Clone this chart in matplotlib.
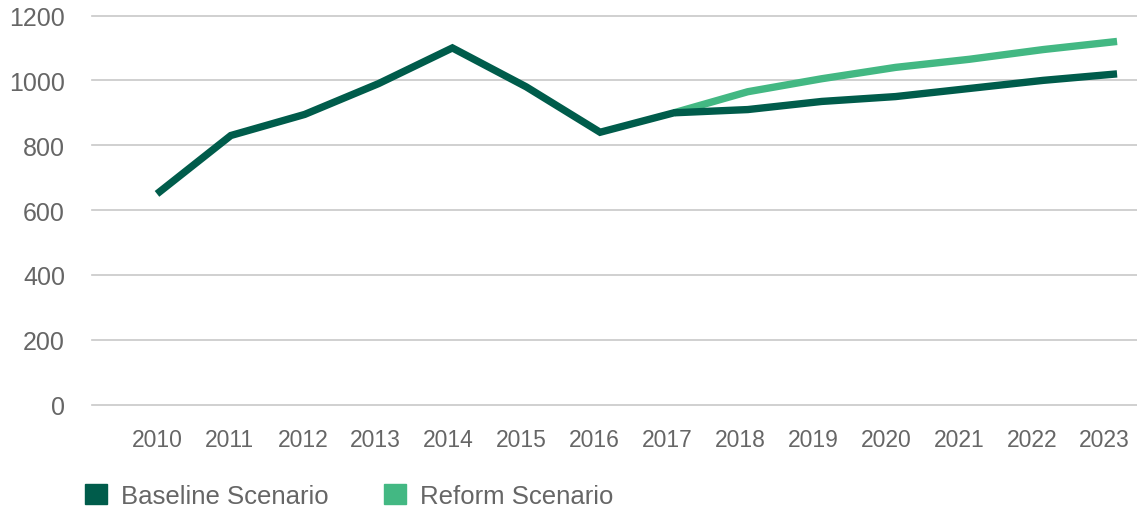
import matplotlib
matplotlib.use("Agg")
import matplotlib.pyplot as plt
import matplotlib.transforms as mtransforms
from matplotlib.patches import Patch

years = ["2010", "2011", "2012", "2013", "2014", "2015", "2016",
         "2017", "2018", "2019", "2020", "2021", "2022", "2023"]
baseline = [650, 830, 895, 990, 1100, 980, 840, 900, 910, 935, 950, 975, 1000, 1020]
# reform scenario starts at 2017
reform_years = years[7:]
reform = [900, 965, 1005, 1040, 1065, 1095, 1120]

dark = "#005C4B"
light = "#43B883"
grey_text = "#666666"

plt.rcParams['font.family'] = ['Liberation Sans', 'DejaVu Sans']

fig = plt.figure(figsize=(11.37, 5.10), dpi=100)
ax = fig.add_axes([92 / 1137, 1 - 405.7 / 510, 1 - 92 / 1137, 389.2 / 510])

x = list(range(len(years)))
xr = [years.index(y) for y in reform_years]

ax.plot(xr, reform, color=light, lw=5.3, solid_capstyle='butt', zorder=3, clip_on=False)
ax.plot(x, baseline, color=dark, lw=5.3, solid_capstyle='butt', solid_joinstyle='miter', zorder=4, clip_on=False)

ax.set_ylim(0, 1200)
ax.set_xlim(-0.88, 13.27)
ax.set_yticks(range(0, 1201, 200))
ax.set_xticks(x)
ax.set_xticklabels(years)
ax.yaxis.grid(True, color="#C8C8C8", lw=1.2, clip_on=False)
ax.set_axisbelow(True)
for s in ax.spines.values():
    s.set_visible(False)
ax.tick_params(axis='both', length=0, colors=grey_text)
ax.tick_params(axis='y', labelsize=18, pad=19.5)
ax.tick_params(axis='x', labelsize=16.5, pad=17)

# year labels sit a little tighter than the points in the original
for i, lab in enumerate(ax.get_xticklabels()):
    off = mtransforms.ScaledTranslation(-i * 0.95 / 100, 0, fig.dpi_scale_trans)
    lab.set_transform(lab.get_transform() + off)

handles = [Patch(color=dark, label="Baseline Scenario"),
           Patch(color=light, label="Reform Scenario")]
leg = fig.legend(handles=handles, loc='center left', bbox_to_anchor=(62 / 1137, 1 - 497 / 510),
                 ncol=2, frameon=False, fontsize=18.5, handlelength=0.85, handleheight=0.85,
                 handletextpad=0.55, columnspacing=2.15, labelcolor=grey_text)

fig.savefig("out.png", dpi=100)
